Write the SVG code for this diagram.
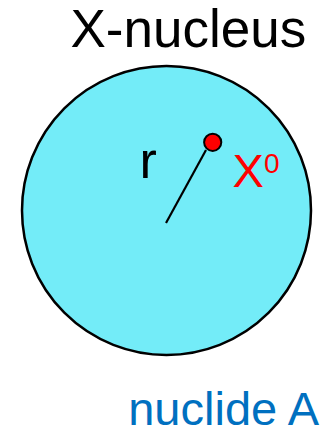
<svg xmlns="http://www.w3.org/2000/svg" width="328" height="429" viewBox="0 0 328 429">
<style>
text{font-family:"Liberation Sans",Arial,sans-serif}
.title{font-size:53px;fill:#000}
.lab{font-size:52px;fill:#000}
.red{fill:#FF0000}
.blue{font-size:47px;fill:#0070C0}
</style>
<rect width="328" height="429" fill="#fff"/>
<g id="nucleus">
<circle cx="166.5" cy="210.5" r="144.5" fill="#73ECF8" stroke="#000" stroke-width="2.5"/>
</g>
<g id="connectors">
<line x1="166" y1="223" x2="206" y2="150" stroke="#000" stroke-width="2.2"/>
</g>
<g id="particle">
<circle cx="212.7" cy="142.3" r="8.6" fill="#FF0000" stroke="#000" stroke-width="2"/>
</g>
<text class="title" x="70.5" y="47">X-nucleus</text>
<text class="lab" x="139.5" y="178">r</text>
<text class="red" x="232.5" y="187" font-size="47">X</text>
<text class="red" x="264" y="173" font-size="28">0</text>
<text class="blue" x="319" y="424.5" text-anchor="end">nuclide A</text>
</svg>
